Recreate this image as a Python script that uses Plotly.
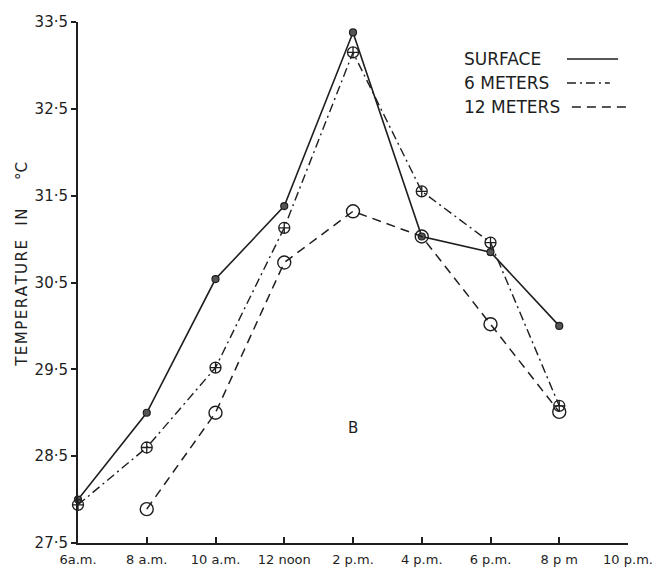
import plotly.graph_objects as go

# Hour of day for each reading (6 a.m. .. 8 p.m.)
hours = [6, 8, 10, 12, 14, 16, 18, 20]
hours_12m = [8, 10, 12, 14, 16, 18, 20]

# Water temperature (°C) at each depth
surface = [28.0, 29.0, 30.54, 31.38, 33.38, 31.03, 30.85, 30.0]
six_m = [27.94, 28.6, 29.52, 31.13, 33.15, 31.55, 30.96, 29.08]
twelve_m = [27.89, 29.0, 30.73, 31.32, 31.03, 30.02, 29.01]

# Axis ticks
x_tickvals = [6, 8, 10, 12, 14, 16, 18, 20, 22]
x_ticktext = ["6a.m.", "8 a.m.", "10 a.m.", "12 noon", "2 p.m.", "4 p.m.", "6 p.m.", "8 p m", "10 p.m."]
y_tickvals = [27.5, 28.5, 29.5, 30.5, 31.5, 32.5, 33.5]
y_ticktext = ["27·5", "28·5", "29·5", "30·5", "31·5", "32·5", "33·5"]

INK = "#1e1e1e"
FONT = "DejaVu Sans"
NB = "\u00a0"
HAIR = "\u200a"

fig = go.Figure()

fig.add_trace(go.Scatter(
    x=hours, y=surface, mode="lines+markers", name="SURFACE",
    line=dict(color=INK, width=1.6),
    marker=dict(symbol="circle", size=7, color="#555", line=dict(color=INK, width=1.2)),
    cliponaxis=False,
))
fig.add_trace(go.Scatter(
    x=hours, y=six_m, mode="lines+markers", name="6 METERS",
    line=dict(color=INK, width=1.4, dash="9px,4px,2px,4px"),
    marker=dict(symbol="circle-cross-open", size=11, color=INK, line=dict(width=1.3)),
    cliponaxis=False,
))
fig.add_trace(go.Scatter(
    x=hours_12m, y=twelve_m, mode="lines+markers", name="12 METERS",
    line=dict(color=INK, width=1.5, dash="9px,6px"),
    marker=dict(symbol="circle-open", size=13, color=INK, line=dict(width=1.4)),
    cliponaxis=False,
))

# Key: label on the left, line sample on the right
key = [
    ("SURFACE", 0.929, 0.889, 0.982, "solid"),
    ("6 METERS", 0.883, 0.889, 0.967, "9px,4px,2px,4px"),
    ("12 METERS", 0.837, 0.898, 0.998, "9px,6px"),
]
for label, ky, x0, x1, dash in key:
    fig.add_annotation(
        x=0.698, y=ky, xref="paper", yref="paper", text=label, showarrow=False,
        xanchor="left", yanchor="middle", font=dict(family=FONT, size=17, color=INK),
    )
    fig.add_shape(
        type="line", xref="paper", yref="paper", x0=x0, x1=x1, y0=ky, y1=ky,
        line=dict(color=INK, width=1.5, dash=dash),
    )

# Panel letter
fig.add_annotation(
    x=14, y=28.82, text="B", showarrow=False,
    font=dict(family=FONT, size=15, color=INK),
)

# Vertical axis title, letter-spaced
title_text = HAIR.join("TEMPERATURE") + NB * 3 + HAIR.join("IN") + NB * 6 + "°C"
fig.add_annotation(
    x=-0.1018, y=0.534, xref="paper", yref="paper",
    text=title_text,
    textangle=-90, showarrow=False, xanchor="center", yanchor="middle",
    font=dict(family=FONT, size=15, color=INK),
)

fig.update_xaxes(
    range=[6, 22], tickvals=x_tickvals, ticktext=x_ticktext,
    showline=True, linecolor=INK, linewidth=2, mirror=False,
    ticks="inside", ticklen=6, tickcolor=INK, tickwidth=1.5,
    showgrid=False, zeroline=False, automargin=False,
    tickfont=dict(family=FONT, size=13, color=INK), ticklabelstandoff=3,
)
fig.update_yaxes(
    range=[27.5, 33.5], tickvals=y_tickvals, ticktext=y_ticktext,
    showline=True, linecolor=INK, linewidth=2, mirror=False,
    ticks="outside", ticklen=5, tickcolor=INK, tickwidth=1.5,
    showgrid=False, zeroline=False, automargin=False,
    tickfont=dict(family=FONT, size=15, color=INK),
)

fig.update_layout(
    width=663, height=568,
    margin=dict(l=78, r=35, t=22, b=25),
    paper_bgcolor="white", plot_bgcolor="white",
    showlegend=False,
)

fig.write_html("out.html")
